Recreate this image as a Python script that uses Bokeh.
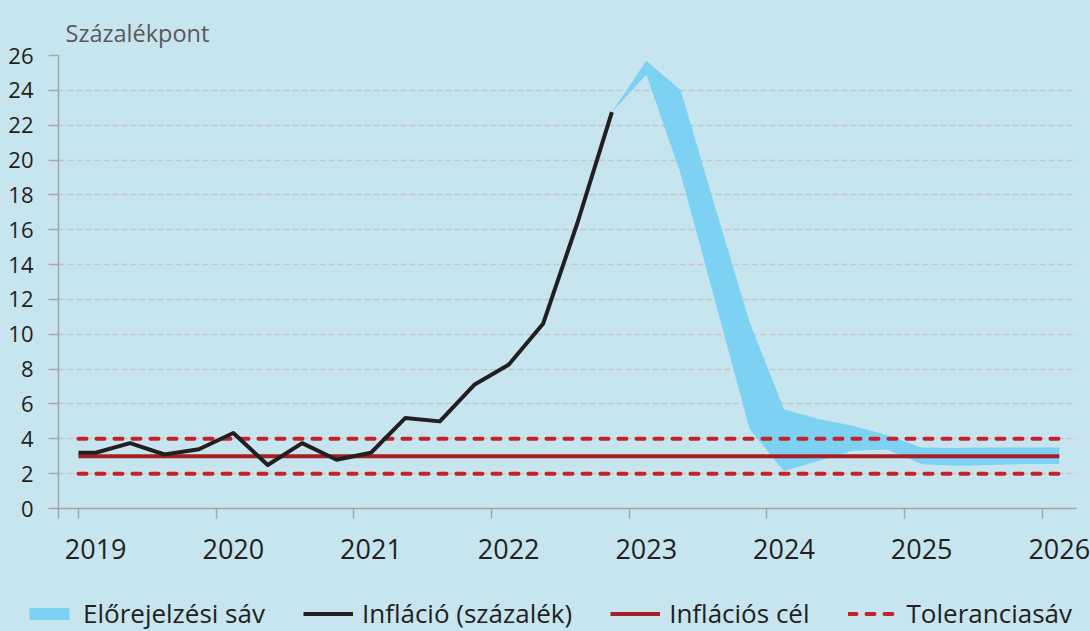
from bokeh.plotting import figure
from bokeh.layouts import column
from bokeh.models import Range1d, FixedTicker, LinearAxis, Legend, LegendItem
from bokeh.embed import file_html
from bokeh.resources import INLINE

# ---- data (decimal years, quarterly mid-points) ----
hist_x = [2019.0, 2019.125, 2019.375, 2019.625, 2019.875, 2020.125, 2020.375, 2020.625,
          2020.875, 2021.125, 2021.375, 2021.625, 2021.875, 2022.125, 2022.375, 2022.625, 2022.875]
hist_y = [3.2, 3.2, 3.75, 3.1, 3.4, 4.33, 2.5, 3.75, 2.8, 3.2, 5.2, 5.0, 7.1, 8.25, 10.6, 16.4, 22.75]

band_x = [2022.875, 2023.125, 2023.375, 2023.625, 2023.875, 2024.125, 2024.375, 2024.625,
          2024.875, 2025.125, 2025.375, 2025.625, 2025.875, 2026.125]
band_lo = [22.75, 24.9, 19.2, 11.9, 4.56, 2.15, 2.72, 3.31, 3.38, 2.55, 2.45, 2.5, 2.55, 2.55]
band_hi = [22.75, 25.7, 24.0, 17.3, 10.7, 5.7, 5.13, 4.75, 4.2, 3.5, 3.47, 3.5, 3.5, 3.5]

target_x = [2019.0, 2026.125]
target_y = [3, 3]
tol_lo_y = [2, 2]
tol_hi_y = [4, 4]

years = [2019, 2020, 2021, 2022, 2023, 2024, 2025, 2026]
y_ticks = list(range(0, 27, 2))

labels = ["Előrejelzési sáv", "Infláció (százalék)", "Inflációs cél", "Toleranciasáv"]
unit_label = "Százalékpont"

# ---- style ----
BG = "#c6e5ef"
BAND = "#7dd1f2"
BLACK = "#231f20"
RED_SOLID = "#a51f24"
RED_DASH = "#c4212b"
AXIS = "#a6a6a6"
FONT = "Open Sans"

X0, X1 = 2018.855, 2026.25
MAIN_H = 588
LEG_H = 631 - MAIN_H

p = figure(width=1090, height=MAIN_H, output_backend="svg", toolbar_location=None,
           x_range=Range1d(X0, X1), y_range=Range1d(0, 26),
           min_border_left=58, min_border_right=14, min_border_top=55, min_border_bottom=MAIN_H - 508)
p.frame_align = False
p.background_fill_color = BG
p.border_fill_color = BG
p.outline_line_color = None

# unit title
p.title.text = unit_label
p.title.align = "left"
p.title.offset = 7
p.title.standoff = 14
p.title.text_font = FONT
p.title.text_font_style = "normal"
p.title.text_font_size = "23.5px"
p.title.text_color = "#595959"

# grid
p.xgrid.grid_line_color = None
p.ygrid.ticker = FixedTicker(ticks=y_ticks)
p.ygrid.grid_line_color = "#c4c8ca"
p.ygrid.grid_line_dash = "6 3"
p.ygrid.grid_line_width = 1.3

# y axis
ya = p.yaxis[0]
ya.ticker = FixedTicker(ticks=y_ticks)
ya.axis_line_color = AXIS
ya.axis_line_width = 1.5
ya.major_tick_line_color = AXIS
ya.major_tick_line_width = 1.5
ya.major_tick_out = 10
ya.major_tick_in = 0
ya.minor_tick_line_color = None
ya.major_label_standoff = 15
ya.major_label_text_font = FONT
ya.major_label_text_font_size = "22px"
ya.major_label_text_color = BLACK

# x axis: tick marks at year starts (no labels)
xa = p.xaxis[0]
tick_pos = [X0] + years
xa.ticker = FixedTicker(ticks=tick_pos)
xa.major_label_overrides = {t: "" for t in tick_pos}
xa.major_label_text_font_size = "1px"
xa.major_label_standoff = 0
xa.axis_line_color = AXIS
xa.axis_line_width = 1.5
xa.major_tick_line_color = AXIS
xa.major_tick_line_width = 1.5
xa.major_tick_out = 10
xa.major_tick_in = 0
xa.minor_tick_line_color = None

# x axis 2: year labels
lab_pos = [y + 0.125 for y in years]
xa2 = LinearAxis(ticker=FixedTicker(ticks=lab_pos),
                 major_label_overrides={y + 0.125: str(y) for y in years})
xa2.axis_line_color = None
xa2.major_tick_line_color = None
xa2.minor_tick_line_color = None
xa2.major_label_standoff = 14
xa2.major_label_text_font = FONT
xa2.major_label_text_font_size = "27px"
xa2.major_label_text_color = BLACK
p.add_layout(xa2, "below")

# glyphs
band_style = dict(fill_color=BAND)
tol_style = dict(line_color=RED_DASH, line_width=4, line_dash="8 10", line_cap="round")
tgt_style = dict(line_color=RED_SOLID, line_width=4)
inf_style = dict(line_color=BLACK, line_width=4, line_join="round")

p.varea(x=band_x, y1=band_lo, y2=band_hi, **band_style)
p.line(target_x, tol_hi_y, **tol_style)
p.line(target_x, tol_lo_y, **tol_style)
p.line(target_x, target_y, **tgt_style)
p.line(hist_x, hist_y, **inf_style)

# legend strip (separate figure below the chart; its renderers use the same data,
# which lies outside this strip's ranges, so only the legend is visible)
lf = figure(width=1090, height=LEG_H, output_backend="svg", toolbar_location=None,
            x_range=Range1d(0, 1), y_range=Range1d(0, 1), x_axis_type=None, y_axis_type=None,
            min_border_left=0, min_border_right=0, min_border_top=0, min_border_bottom=0)
lf.frame_align = False
lf.background_fill_color = BG
lf.border_fill_color = BG
lf.outline_line_color = None
lf.xgrid.grid_line_color = None
lf.ygrid.grid_line_color = None
l_band = lf.varea(x=band_x, y1=band_lo, y2=band_hi, **band_style)
l_inf = lf.line(hist_x, hist_y, **inf_style)
l_tgt = lf.line(target_x, target_y, **tgt_style)
l_tol = lf.line(target_x, tol_hi_y, **tol_style)

leg = Legend(items=[LegendItem(label=labels[0], renderers=[l_band]),
                    LegendItem(label=labels[1], renderers=[l_inf]),
                    LegendItem(label=labels[2], renderers=[l_tgt]),
                    LegendItem(label=labels[3], renderers=[l_tol])],
             location=(24, 0), orientation="horizontal", glyph_width=50, glyph_height=15,
             label_standoff=9, spacing=38, padding=0, margin=0,
             border_line_color=None, background_fill_alpha=0,
             label_text_font=FONT, label_text_font_size="26px", label_text_color=BLACK)
lf.add_layout(leg, "center")

layout = column(p, lf, spacing=0, styles={"background-color": BG})
open("out.html", "w").write(file_html(layout, INLINE))
